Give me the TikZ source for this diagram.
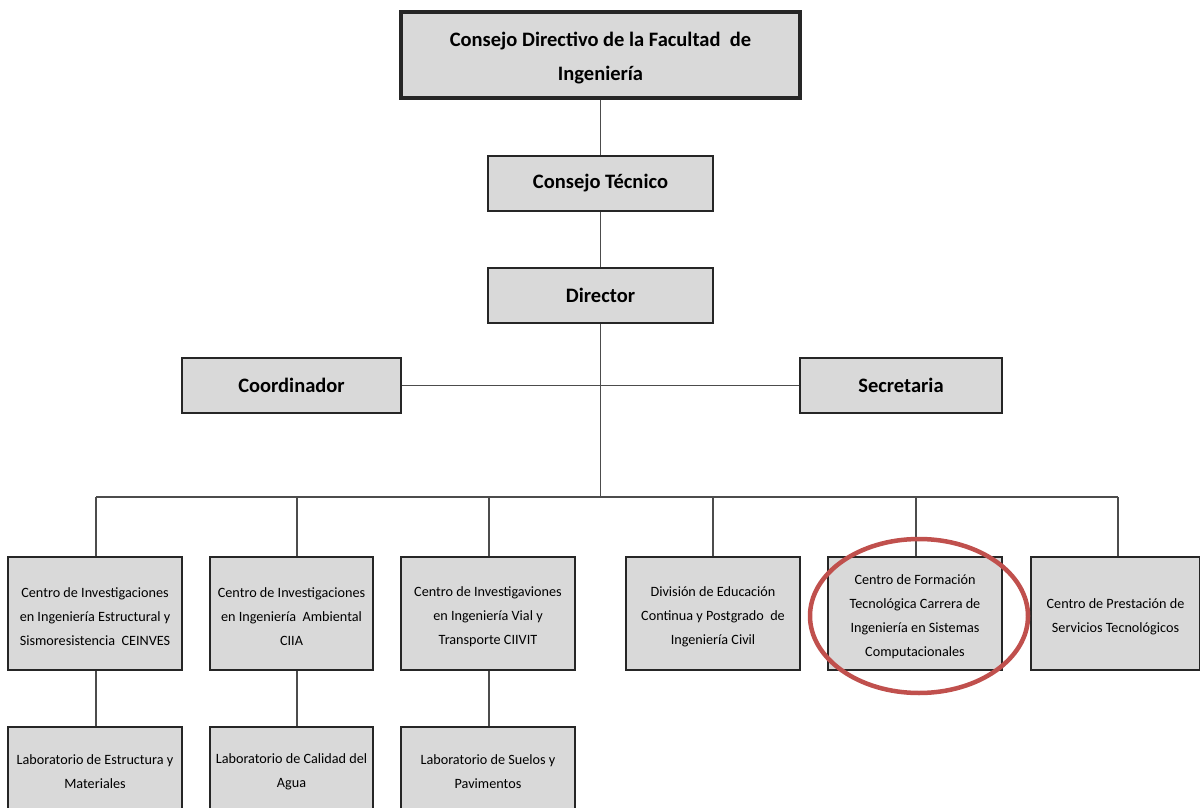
\documentclass[tikz,border=0pt]{standalone}
\usepackage{fontspec}
\setmainfont{Carlito}
% a strut that lowers the first line of a box's text a little
\newcommand\boxlift[1]{\rule{0pt}{#1}}
\begin{document}
\begin{tikzpicture}[x=1pt,y=-1pt,
  unit/.style={draw=black!85, line width=1.4pt, fill=black!15, align=center,
    inner sep=2pt, font=\fontsize{14.2}{24}\selectfont},
  head/.style={draw=black!85, line width=1.4pt, fill=black!15, align=center,
    inner sep=2pt, font=\bfseries\fontsize{20.5}{34}\selectfont},
  link/.style={draw=black!70, line width=1.2pt},
  mark ring/.style={color={rgb,255:red,192;green,80;blue,77}, line width=4.5pt}]
\useasboundingbox (0,0) rectangle (1200,808);
\clip (0,0) rectangle (1200,808);

% top levels
\node[head, line width=3.2pt, minimum width=399pt, minimum height=86pt] (top) at (600.5,55)
  {\boxlift{21pt}Consejo Directivo de la Facultad \ de\\Ingeniería};
\node[head, minimum width=225pt, minimum height=55pt] (tec) at (600.5,183.5) {Consejo Técnico};
\node[head, minimum width=225pt, minimum height=55pt] (dir) at (600.5,295.5) {Director};
\node[head, minimum width=219pt, minimum height=55pt] (coord) at (291.5,385.5) {Coordinador};
\node[head, minimum width=202pt, minimum height=55pt] (secr) at (901,385.5) {Secretaria};

% centres
\node[unit, minimum width=174pt, minimum height=113pt] (c1) at (95,613.5)
  {\boxlift{16pt}Centro de Investigaciones\\en Ingeniería Estructural y\\Sismoresistencia \ CEINVES};
\node[unit, minimum width=163pt, minimum height=113pt] (c2) at (291.5,613.5)
  {\boxlift{16pt}Centro de Investigaciones\\en Ingeniería \ Ambiental\\CIIA};
\node[unit, minimum width=174pt, minimum height=113pt] (c3) at (488,613.5)
  {\boxlift{16pt}Centro de Investigaviones\\en Ingeniería Vial y\\Transporte CIIVIT};
\node[unit, minimum width=174pt, minimum height=113pt] (c4) at (713,613.5)
  {\boxlift{16pt}División de Educación\\Continua y Postgrado \ de\\Ingeniería Civil};
\node[unit, minimum width=174pt, minimum height=113pt] (c5) at (915,613.5)
  {\boxlift{16pt}Centro de Formación\\Tecnológica Carrera de\\Ingeniería en Sistemas\\Computacionales};
\node[unit, minimum width=169pt, minimum height=113pt] (c6) at (1115.5,613.5)
  {\boxlift{16pt}Centro de Prestación de\\Servicios Tecnológicos};

% laboratories
\node[unit, minimum width=174pt, minimum height=84pt] (l1) at (95,769)
  {\boxlift{16pt}Laboratorio de Estructura y\\Materiales};
\node[unit, minimum width=163pt, minimum height=84pt] (l2) at (291.5,769)
  {\boxlift{16pt}Laboratorio de Calidad del\\Agua};
\node[unit, minimum width=174pt, minimum height=84pt] (l3) at (488,769)
  {\boxlift{16pt}Laboratorio de Suelos y\\Pavimentos};

% connectors
\coordinate (bus) at (600,497);
\draw[link] (top.south) -- (tec.north);
\draw[link] (tec.south) -- (dir.north);
\draw[link] (coord) -- (secr);
\draw[link] (dir.south) -- (dir.south |- bus);
\draw[link] ([xshift=1pt]c1.north |- bus) -- ([xshift=2.5pt]c6.north |- bus);
\foreach \n/\dx in {c1/1,c2/5.5,c3/1,c4/0,c5/1,c6/2.5}
  \draw[link] ([xshift=\dx pt]\n.north) -- ([xshift=\dx pt]\n.north |- bus);
\draw[link] ([xshift=1pt]c1.south) -- ([xshift=1pt]l1.north);
\draw[link] ([xshift=5.5pt]c2.south) -- ([xshift=5.5pt]l2.north);
\draw[link] ([xshift=1pt]c3.south) -- ([xshift=1pt]l3.north);

% highlight ring
\draw[mark ring] (919,616) ellipse [x radius=109pt, y radius=77pt];
\end{tikzpicture}
\end{document}
